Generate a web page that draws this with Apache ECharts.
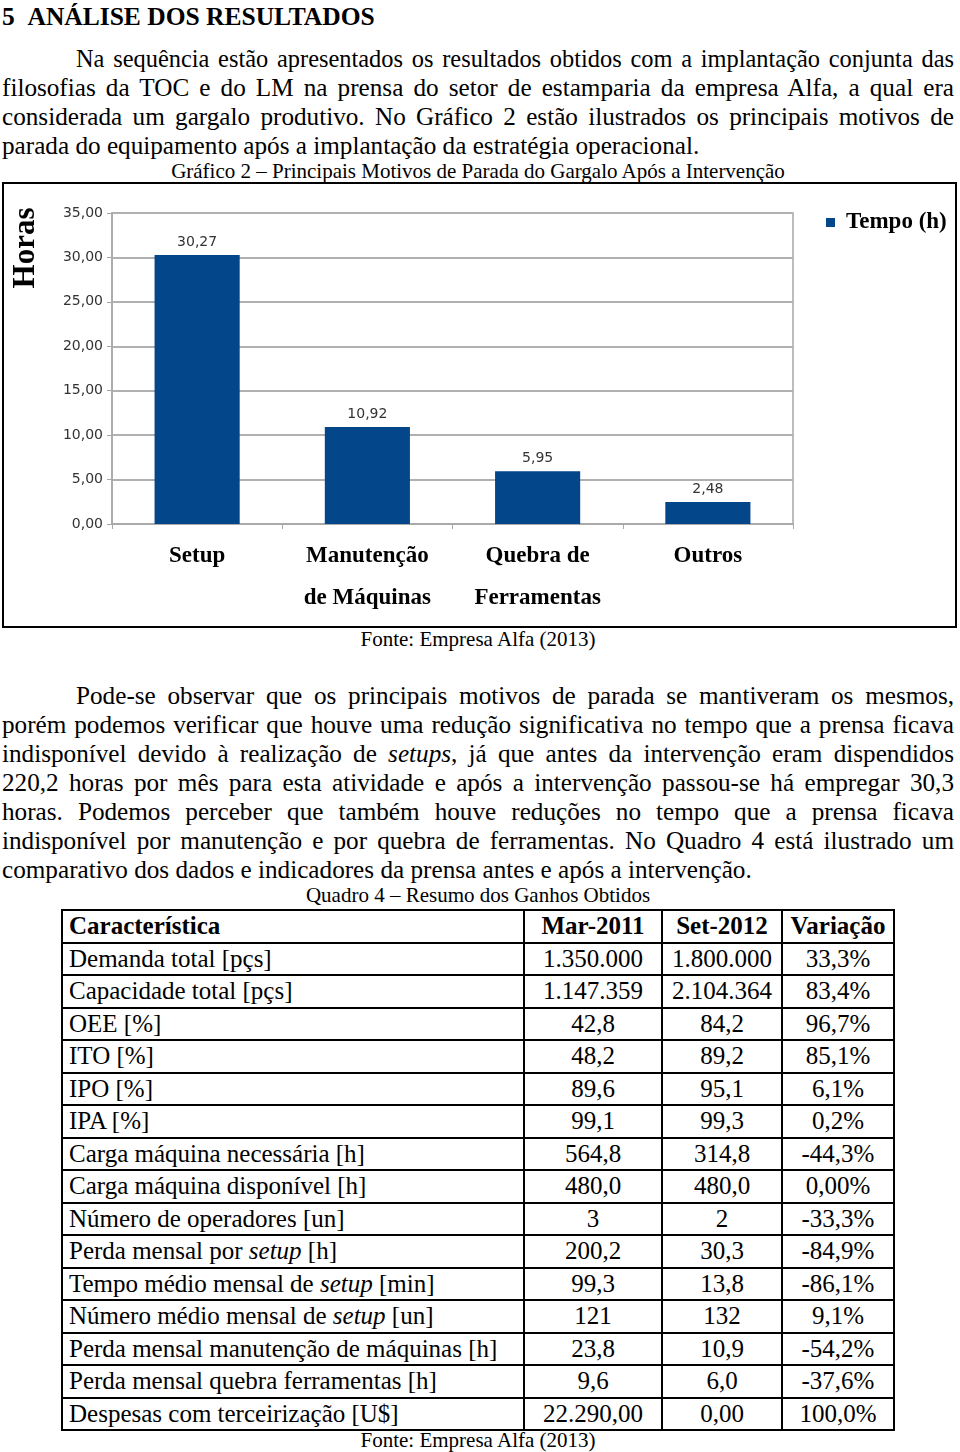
<!DOCTYPE html>
<html>
<head>
<meta charset="utf-8">
<script src="https://cdn.jsdelivr.net/npm/echarts@6/dist/echarts.min.js"></script>
<style>
  html, body { margin:0; padding:0; background:#fff; }
  body { width:960px; height:1452px; position:relative; overflow:hidden; font-family:"Liberation Serif","Times New Roman",serif; color:#000; }
  .ln { position:absolute; left:2px; width:952px; height:29px; line-height:29px; font-size:25.2px; white-space:nowrap; box-sizing:border-box; }
  .full { text-align:justify; text-align-last:justify; white-space:normal; }
  .ind { padding-left:74px; }
  .cap { position:absolute; left:0; width:956px; text-align:center; font-size:21px; line-height:24px; }
  #chartBox { position:absolute; left:2px; top:182px; width:955px; height:446px; box-sizing:border-box; border:2px solid #000; }
  #chart { width:951px; height:442px; }
  #tbl { position:absolute; left:61px; top:909px; border-collapse:collapse; font-size:25px; table-layout:fixed; width:834px; }
  #tbl tr { height:32.5px; }
  #tbl td, #tbl th { border:2px solid #000; padding:0 6px; line-height:28px; white-space:nowrap; overflow:hidden; }
  #tbl th { font-weight:bold; }
  #tbl .c0 { text-align:left; }
  #tbl .c1, #tbl .c2, #tbl .c3 { text-align:center; }
</style>
</head>
<body>
<div class="ln" style="top:2px;font-weight:bold;font-size:25.5px;">5&nbsp;&nbsp;ANÁLISE DOS RESULTADOS</div>

<div class="ln full ind" style="top:44px;font-size:24.4px;">Na sequência estão apresentados os resultados obtidos com a implantação conjunta das</div>
<div class="ln full" style="top:73px;">filosofias da TOC e do LM na prensa do setor de estamparia da empresa Alfa, a qual era</div>
<div class="ln full" style="top:102px;">considerada um gargalo produtivo. No Gráfico 2 estão ilustrados os principais motivos de</div>
<div class="ln" style="top:131px;">parada do equipamento após a implantação da estratégia operacional.</div>

<div class="cap" style="top:159px;">Gráfico 2 – Principais Motivos de Parada do Gargalo Após a Intervenção</div>

<div id="chartBox"><div id="chart"></div></div>

<div class="cap" style="top:627px;">Fonte: Empresa Alfa (2013)</div>

<div class="ln full ind" style="top:681px;">Pode-se observar que os principais motivos de parada se mantiveram os mesmos,</div>
<div class="ln full" style="top:710px;">porém podemos verificar que houve uma redução significativa no tempo que a prensa ficava</div>
<div class="ln full" style="top:739px;">indisponível devido à realização de <i>setups</i>, já que antes da intervenção eram dispendidos</div>
<div class="ln full" style="top:768px;">220,2 horas por mês para esta atividade e após a intervenção passou-se há empregar 30,3</div>
<div class="ln full" style="top:797px;">horas. Podemos perceber que também houve reduções no tempo que a prensa ficava</div>
<div class="ln full" style="top:826px;">indisponível por manutenção e por quebra de ferramentas. No Quadro 4 está ilustrado um</div>
<div class="ln" style="top:855px;">comparativo dos dados e indicadores da prensa antes e após a intervenção.</div>

<div class="cap" style="top:883px;">Quadro 4 – Resumo dos Ganhos Obtidos</div>

<table id="tbl"></table>

<div class="cap" style="top:1428px;">Fonte: Empresa Alfa (2013)</div>

<script>
// ---- Chart data ----
const categories = ['Setup', 'Manutenção\nde Máquinas', 'Quebra de\nFerramentas', 'Outros'];
const tempoHoras = [30.27, 10.92, 5.95, 2.48];
const seriesName = 'Tempo (h)';
const axisName = 'Horas';

// ---- Table data ----
const tableHeader = ['Característica', 'Mar-2011', 'Set-2012', 'Variação'];
const rowLabels = [
  'Demanda total [pçs]', 'Capacidade total [pçs]', 'OEE [%]', 'ITO [%]', 'IPO [%]', 'IPA [%]',
  'Carga máquina necessária [h]', 'Carga máquina disponível [h]', 'Número de operadores [un]',
  'Perda mensal por setup [h]', 'Tempo médio mensal de setup [min]', 'Número médio mensal de setup [un]',
  'Perda mensal manutenção de máquinas [h]', 'Perda mensal quebra ferramentas [h]', 'Despesas com terceirização [U$]'
];
const mar2011 = ['1.350.000','1.147.359','42,8','48,2','89,6','99,1','564,8','480,0','3','200,2','99,3','121','23,8','9,6','22.290,00'];
const set2012 = ['1.800.000','2.104.364','84,2','89,2','95,1','99,3','314,8','480,0','2','30,3','13,8','132','10,9','6,0','0,00'];
const variacao = ['33,3%','83,4%','96,7%','85,1%','6,1%','0,2%','-44,3%','0,00%','-33,3%','-84,9%','-86,1%','9,1%','-54,2%','-37,6%','100,0%'];

// Build table
(function(){
  const t = document.getElementById('tbl');
  let html = '<colgroup><col style="width:462px"><col style="width:138px"><col style="width:120px"><col style="width:112px"></colgroup>';
  html += '<tr>' + tableHeader.map((h,i)=>'<th class="c'+i+'">'+h+'</th>').join('') + '</tr>';
  rowLabels.forEach((lab, i) => {
    const l = lab.replace(/\bsetup\b/, '<i>setup</i>');
    html += '<tr><td class="c0">'+l+'</td><td class="c1">'+mar2011[i]+'</td><td class="c2">'+set2012[i]+'</td><td class="c3">'+variacao[i]+'</td></tr>';
  });
  t.innerHTML = html;
})();

const fmt = v => Number(v).toFixed(2).replace('.', ',');
const chart = echarts.init(document.getElementById('chart'));
chart.setOption({
  animation: false,
  grid: { left: 108, top: 29, right: 162, bottom: 102, show: true, borderColor: '#a8a8a8', borderWidth: 1.5 },
  legend: {
    left: 817, top: 22, icon: 'rect', itemWidth: 9, itemHeight: 9,
    textStyle: { fontFamily: 'Liberation Serif', fontWeight: 'bold', fontSize: 23, color: '#000', padding: [0,0,0,6] },
    data: [seriesName]
  },
  graphic: [{
    type: 'text', x: 22, y: 64, rotation: Math.PI / 2,
    style: { text: axisName, font: 'bold 31px "Liberation Serif"', fill: '#000', align: 'center', verticalAlign: 'middle' }
  }],
  xAxis: {
    type: 'category', data: categories,
    axisLine: { lineStyle: { color: '#a8a8a8', width: 1.5 } },
    axisTick: { show: true, length: 5, lineStyle: { color: '#a8a8a8' } },
    axisLabel: { fontFamily: 'Liberation Serif', fontWeight: 'bold', fontSize: 23, lineHeight: 42, color: '#000', margin: 11, interval: 0 }
  },
  yAxis: {
    type: 'value', min: 0, max: 35, interval: 5,
    axisLine: { show: true, lineStyle: { color: '#a8a8a8', width: 1.5 } },
    axisTick: { show: true, length: 5, lineStyle: { color: '#a8a8a8' } },
    splitLine: { lineStyle: { color: '#b0b0b0', width: 2 } },
    axisLabel: { formatter: fmt, fontFamily: 'DejaVu Sans', fontSize: 14, color: '#333', margin: 9 }
  },
  series: [{
    name: seriesName, type: 'bar', data: tempoHoras, barWidth: '50%',
    itemStyle: { color: '#04468a' },
    label: { show: true, position: 'top', formatter: p => fmt(p.value), fontFamily: 'DejaVu Sans', fontSize: 14, color: '#333', distance: 6 }
  }]
});
</script>
</body>
</html>
